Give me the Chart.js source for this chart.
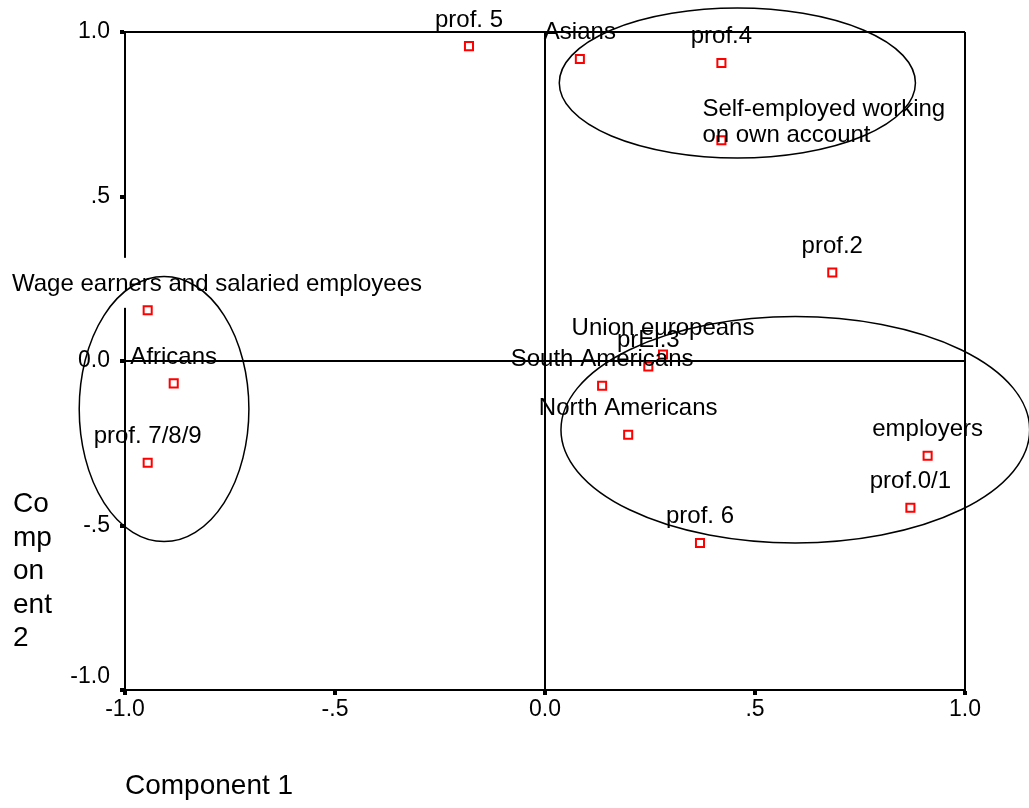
<!DOCTYPE html>
<html>
<head>
<meta charset="utf-8">
<script src="https://cdn.jsdelivr.net/npm/chart.js@4.4.1/dist/chart.umd.min.js"></script>
<style>
  body { margin: 0; background: #fff; }
  #wrap { width: 1029px; height: 808px; }
</style>
</head>
<body>
<div id="wrap"><canvas id="plot"></canvas></div>
<script>
// component loadings
const names = [
  'prof. 5', 'Asians', 'prof.4', 'Self-employed working\non own account', 'prof.2',
  'Wage earners and salaried employees', 'Union europeans', 'prEl.3', 'Africans',
  'South Americans', 'North Americans', 'employers', 'prof. 7/8/9', 'prof.0/1', 'prof. 6'
];
const comp1 = [-0.181, 0.083, 0.420, 0.420, 0.684, -0.946, 0.281, 0.246, -0.884, 0.136, 0.198, 0.911, -0.946, 0.870, 0.369];
const comp2 = [0.957, 0.918, 0.906, 0.671, 0.269, 0.154, 0.020, -0.017, -0.068, -0.075, -0.224, -0.288, -0.309, -0.446, -0.553];

const tickValues = [-1, -0.5, 0, 0.5, 1];
const tickLabels = ['-1.0', '-.5', '0.0', '.5', '1.0'];

// the three groups circled by hand, in component units
const groupX = [0.458, 0.596, -0.907];
const groupY = [0.845, -0.209, -0.146];
const groupRX = [0.424, 0.558, 0.202];
const groupRY = [0.228, 0.344, 0.403];

const yTitle = ['Co', 'mp', 'on', 'ent', '2'];
const xTitle = 'Component 1';

const FONT = '"Liberation Sans", Arial, sans-serif';
Chart.defaults.font.family = FONT;
Chart.defaults.color = '#000';

function tickText(v) {
  const i = tickValues.findIndex(t => Math.abs(t - v) < 1e-9);
  return i < 0 ? '' : tickLabels[i];
}

function frameColor(c) {
  if (!c.tick) return 'rgba(0,0,0,0)';
  return (c.tick.value === 0 || c.tick.value === 1) ? '#000' : 'rgba(0,0,0,0)';
}

const pointLabels = {
  id: 'pointLabels',
  afterDatasetsDraw(chart) {
    const ctx = chart.ctx;
    const area = chart.chartArea;
    const pts = chart.getDatasetMeta(0).data;
    ctx.save();
    ctx.font = '24px ' + FONT;
    ctx.fillStyle = '#000';
    ctx.textBaseline = 'alphabetic';
    pts.forEach((p, i) => {
      const lines = names[i].split('\n');
      if (lines.length > 1) {
        ctx.textAlign = 'left';
        ctx.fillText(lines[0], p.x - 19, p.y - 24);
        ctx.fillText(lines[1], p.x - 19, p.y + 2);
        return;
      }
      const w = ctx.measureText(names[i]).width;
      let left = p.x - w / 2;
      const base = p.y - 19.5;
      if (left < 12) {
        left = 12;
        // label pushed over the axis wipes a bit of it
        ctx.fillStyle = '#fff';
        ctx.fillRect(area.left - 6, base - 33, 12, 50);
        ctx.fillStyle = '#000';
      }
      ctx.textAlign = 'left';
      ctx.fillText(names[i], left, base);
    });
    ctx.restore();
  },
  afterDraw(chart) {
    const ctx = chart.ctx;
    const xs = chart.scales.x, ys = chart.scales.y;
    ctx.save();
    ctx.strokeStyle = '#000';
    ctx.lineWidth = 1.5;
    groupX.forEach((gx, i) => {
      const cx = xs.getPixelForValue(gx);
      const cy = ys.getPixelForValue(groupY[i]);
      const rx = xs.getPixelForValue(gx + groupRX[i]) - cx;
      const ry = cy - ys.getPixelForValue(groupY[i] + groupRY[i]);
      ctx.beginPath();
      ctx.ellipse(cx, cy, rx, ry, 0, 0, Math.PI * 2);
      ctx.stroke();
    });
    // vertical title broken into short lines
    ctx.font = '28px ' + FONT;
    ctx.fillStyle = '#000';
    ctx.textAlign = 'left';
    ctx.textBaseline = 'alphabetic';
    yTitle.forEach((t, i) => ctx.fillText(t, 13, 512 + i * 33.5));
    ctx.restore();
  }
};

new Chart(document.getElementById('plot'), {
  type: 'scatter',
  data: {
    datasets: [{
      data: comp1.map((x, i) => ({ x: x, y: comp2[i] })),
      pointStyle: 'rect',
      pointRadius: 5.7,
      pointBorderWidth: 2,
      pointBorderColor: '#ff0000',
      pointBackgroundColor: '#fff'
    }]
  },
  options: {
    responsive: true,
    maintainAspectRatio: false,
    animation: false,
    layout: { padding: { top: 32, right: 64, left: 0, bottom: 0 } },
    plugins: { legend: { display: false }, tooltip: { enabled: false } },
    scales: {
      x: {
        type: 'linear',
        min: -1, max: 1,
        afterFit: s => { s.height = 118; },
        ticks: {
          stepSize: 0.5,
          font: { size: 23 },
          padding: 1,
          maxRotation: 0,
          callback: v => tickText(v)
        },
        grid: {
          color: frameColor,
          lineWidth: 2,
          tickColor: '#000',
          tickWidth: 4,
          tickLength: 5
        },
        border: { display: true, color: '#000', width: 2 },
        title: {
          display: true,
          text: xTitle,
          align: 'start',
          font: { size: 28 },
          padding: { top: 0, bottom: 5 }
        }
      },
      y: {
        type: 'linear',
        min: -1, max: 1,
        afterFit: s => { s.width = 125; },
        ticks: {
          stepSize: 0.5,
          font: { size: 23 },
          padding: 10,
          callback: v => (v === -1 ? [tickText(v), ''] : tickText(v))
        },
        grid: {
          color: frameColor,
          lineWidth: 2,
          tickColor: '#000',
          tickWidth: 4,
          tickLength: 5
        },
        border: { display: true, color: '#000', width: 2 }
      }
    }
  },
  plugins: [pointLabels]
});
</script>
</body>
</html>
